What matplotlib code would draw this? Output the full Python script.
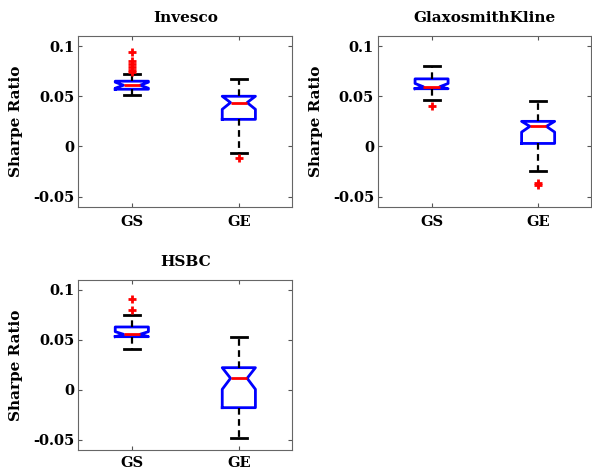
import matplotlib
matplotlib.use("Agg")
import matplotlib.pyplot as plt

# box stats: lower whisker, q1, notch low, median, notch high, q3, upper whisker
labels = ["GS", "GE"]
titles = ["Invesco", "GlaxosmithKline", "HSBC"]

invesco_gs = [0.051, 0.057, 0.058, 0.061, 0.064, 0.065, 0.072]
invesco_ge = [-0.007, 0.027, 0.037, 0.0437, 0.050, 0.050, 0.0667]
invesco_fliers = [[0.094, 0.085, 0.082, 0.079, 0.076, 0.074], [-0.011]]

gsk_gs = [0.0463, 0.0575, 0.0575, 0.0595, 0.0627, 0.0673, 0.080]
gsk_ge = [-0.0243, 0.003, 0.0143, 0.020, 0.025, 0.025, 0.045]
gsk_fliers = [[0.040], [-0.036, -0.038]]

hsbc_gs = [0.041, 0.0533, 0.0533, 0.0557, 0.0583, 0.063, 0.075]
hsbc_ge = [-0.0483, -0.0177, 0.0007, 0.0117, 0.0223, 0.0223, 0.053]
hsbc_fliers = [[0.091, 0.0803], []]

yticks = [-0.05, 0, 0.05, 0.1]
yticklabels = ["-0.05", "0", "0.05", "0.1"]

plt.rcParams["font.family"] = "DejaVu Serif"
plt.rcParams["font.weight"] = "bold"


def make_stats(vals, fliers):
    return {"whislo": vals[0], "q1": vals[1], "cilo": vals[2], "med": vals[3],
            "cihi": vals[4], "q3": vals[5], "whishi": vals[6], "fliers": fliers}


def draw(ax, title, gs, ge, fliers, xpad=6):
    stats = [make_stats(gs, fliers[0]), make_stats(ge, fliers[1])]
    for s, lab in zip(stats, labels):
        s["label"] = lab
    ax.bxp(stats, positions=[1, 2], widths=0.31, capwidths=0.15,
           shownotches=True,
           boxprops=dict(color="#0000ff", linewidth=2),
           medianprops=dict(color="#ff0000", linewidth=2),
           whiskerprops=dict(color="black", linewidth=1.6, linestyle=(0, (3, 2))),
           capprops=dict(color="black", linewidth=2),
           flierprops=dict(marker="+", markeredgecolor="#ff0000", markersize=6,
                           markeredgewidth=2))
    ax.set_xlim(0.5, 2.5)
    ax.set_ylim(-0.06, 0.11)
    ax.set_yticks(yticks)
    ax.set_yticklabels(yticklabels)
    ax.tick_params(direction="in", length=3, width=0.8, color="#555555",
                   top=True, right=True, labelsize=10.5)
    ax.tick_params(axis="y", pad=3)
    ax.tick_params(axis="x", pad=xpad, labelsize=10.5)
    for sp in ax.spines.values():
        sp.set_color("#666666")
        sp.set_linewidth(0.8)
    ax.set_title(title, fontsize=11, fontweight="bold", pad=10)
    ax.set_ylabel("Sharpe Ratio", fontsize=11, fontweight="bold", labelpad=7)


fig = plt.figure(figsize=(5.92, 4.70), dpi=100)
ax1 = fig.add_axes([0.1323, 0.5602, 0.3615, 0.3632])
ax2 = fig.add_axes([0.639, 0.5602, 0.3600, 0.3632])
ax3 = fig.add_axes([0.1323, 0.0426, 0.3615, 0.3617])

draw(ax1, titles[0], invesco_gs, invesco_ge, invesco_fliers)
draw(ax2, titles[1], gsk_gs, gsk_ge, gsk_fliers)
draw(ax3, titles[2], hsbc_gs, hsbc_ge, hsbc_fliers, xpad=4)

fig.savefig("out.png", dpi=100)
